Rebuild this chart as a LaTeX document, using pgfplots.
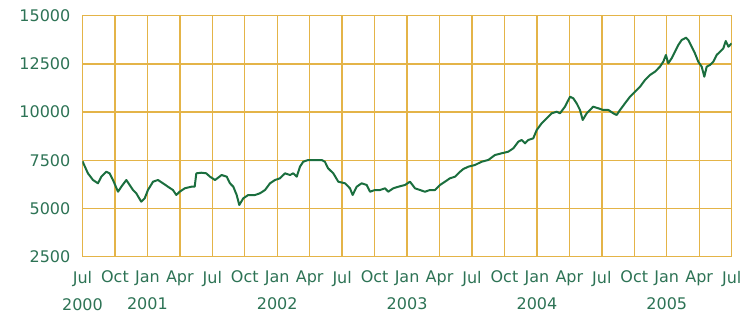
\documentclass[border=0pt]{standalone}
\usepackage{pgfplots}
\pgfplotsset{compat=1.18}
\usepackage{fontspec}
\setmainfont{DejaVu Sans}
\definecolor{gridc}{RGB}{228,180,72}
\definecolor{linec}{RGB}{26,110,62}
\definecolor{txtc}{RGB}{45,115,85}
\begin{document}
\begin{tikzpicture}
\begin{axis}[
  at={(0pt,0pt)}, anchor=south west,
  scale only axis, width=649.2pt, height=241pt,
  xmin=0, xmax=60, ymin=2500, ymax=15000,
  scaled y ticks=false,
  xtick={0,3,...,60},
  xticklabels={{Jul\\2000},Oct,{Jan\\2001},Apr,Jul,Oct,{Jan\\2002},Apr,Jul,Oct,{Jan\\2003},Apr,Jul,Oct,{Jan\\2004},Apr,Jul,Oct,{Jan\\2005},Apr,Jul},
  ytick={2500,5000,7500,10000,12500,15000},
  yticklabels={2500,5000,7500,10000,12500,15000},
  grid=major,
  major grid style={draw=gridc, line width=1.4pt},
  axis line style={draw=gridc, line width=1.4pt},
  major tick length=0pt,
  tick style={draw=none},
  xticklabel style={font=\fontsize{16}{27}\selectfont, text=txtc, align=center, anchor=north, yshift=-14pt, inner sep=0pt},
  yticklabel style={font=\fontsize{16}{20}\selectfont, text=txtc, anchor=east, xshift=-12pt, inner sep=0pt},
]
\addplot[linec, line width=2pt, line join=round] coordinates {
(0,7450) (0.5,6825) (0.97,6478) (1.43,6307) (1.74,6650) (2.2,6908) (2.5,6825) (2.82,6478) (3.28,5870) (3.59,6130) (4.05,6478) (4.36,6218) (4.67,5959) (4.97,5788) (5.43,5352) (5.75,5529) (6.05,5959) (6.52,6390) (6.98,6478) (7.44,6307) (7.9,6130) (8.36,5959) (8.67,5700) (8.98,5870) (9.45,6047) (10.06,6130) (10.37,6130) (10.52,6825) (10.98,6856) (11.44,6825) (11.78,6650) (12.25,6478) (12.86,6737) (13.33,6650) (13.63,6307) (13.94,6130) (14.25,5700) (14.49,5181) (14.86,5529) (15.32,5700) (15.94,5700) (16.4,5788) (16.87,5959) (17.33,6307) (17.79,6478) (18.25,6566) (18.72,6825) (19.18,6737) (19.48,6825) (19.8,6650) (20.1,7168) (20.4,7427) (20.87,7515) (21.49,7515) (22.1,7515) (22.4,7427) (22.7,7085) (23.18,6825) (23.64,6390) (24.26,6307) (24.72,6047) (24.97,5700) (25.34,6130) (25.8,6307) (26.27,6218) (26.57,5870) (27.03,5959) (27.5,5959) (27.96,6047) (28.26,5870) (28.72,6047) (29.19,6130) (29.8,6218) (30.27,6390) (30.73,6047) (31.19,5959) (31.65,5870) (32.12,5959) (32.58,5959) (33.04,6218) (33.5,6390) (33.96,6566) (34.43,6650) (34.9,6908) (35.2,7050) (35.66,7168) (36.28,7258) (36.89,7427) (37.5,7515) (38.12,7775) (38.74,7863) (39.35,7946) (39.82,8122) (40.28,8464) (40.59,8553) (40.9,8381) (41.2,8553) (41.66,8641) (41.98,9072) (42.44,9419) (42.9,9678) (43.36,9937) (43.83,10021) (44.13,9937) (44.59,10280) (45.06,10798) (45.36,10716) (45.67,10456) (45.98,10109) (46.23,9591) (46.6,9937) (46.9,10109) (47.2,10280) (47.67,10197) (48.13,10109) (48.6,10109) (49.06,9937) (49.37,9850) (49.68,10109) (50.14,10456) (50.6,10798) (51.06,11058) (51.53,11317) (51.99,11665) (52.45,11924) (52.91,12095) (53.37,12355) (53.68,12614) (53.92,12962) (54.14,12531) (54.45,12790) (54.76,13133) (55.07,13480) (55.38,13740) (55.78,13859) (55.99,13740) (56.3,13392) (56.6,13050) (56.91,12614) (57.23,12355) (57.47,11836) (57.69,12355) (57.99,12443) (58.3,12614) (58.61,12962) (58.92,13133) (59.23,13309) (59.45,13688) (59.7,13392) (60,13568)
};
\end{axis}
\pgfresetboundingbox
\path[use as bounding box] (-82.5pt,-56.3pt) rectangle (662.5pt,256.7pt);
\end{tikzpicture}
\end{document}
